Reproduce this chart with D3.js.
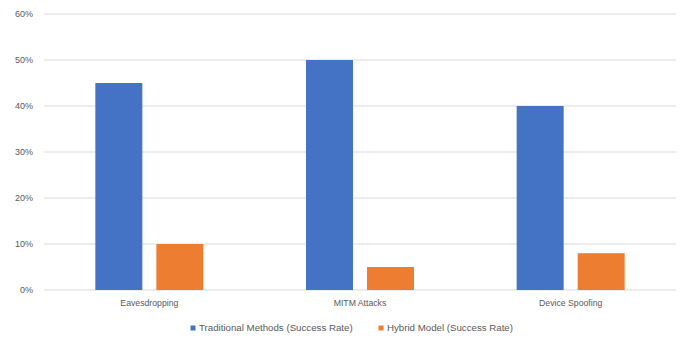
<!DOCTYPE html>
<html>
<head>
<meta charset="utf-8">
<script src="https://cdn.jsdelivr.net/npm/d3@7"></script>
<style>
  body { margin: 0; background: #fff; }
  text { font-family: "Liberation Sans", Arial, sans-serif; fill: #595959; }
</style>
</head>
<body>
<svg width="683" height="338"></svg>
<script>
var categories = ["Eavesdropping", "MITM Attacks", "Device Spoofing"];
var seriesNames = ["Traditional Methods (Success Rate)", "Hybrid Model (Success Rate)"];
var traditional = [0.45, 0.50, 0.40];
var hybrid = [0.10, 0.05, 0.08];
var yTicks = [0, 0.1, 0.2, 0.3, 0.4, 0.5, 0.6];
var colors = ["#4472C4", "#ED7D31"];

var svg = d3.select("svg");
var margin = { left: 44, right: 7, top: 14, bottom: 48 };
var width = +svg.attr("width");
var height = +svg.attr("height");

var x = d3.scaleBand().domain(categories).range([margin.left, width - margin.right]);
var x1 = d3.scaleBand().domain([0, 1]).range([0, 108]).paddingInner(0.23);
var y = d3.scaleLinear().domain([0, 0.6]).range([height - margin.bottom, margin.top]);

var g = svg.append("g");

// gridlines
g.selectAll(".grid")
  .data(yTicks)
  .enter().append("line")
  .attr("x1", margin.left)
  .attr("x2", width - margin.right)
  .attr("y1", d => y(d))
  .attr("y2", d => y(d))
  .attr("stroke", "#D9D9D9")
  .attr("stroke-width", 1);

// y labels
g.selectAll(".ylab")
  .data(yTicks)
  .enter().append("text")
  .attr("x", margin.left - 11)
  .attr("y", d => y(d) + 3)
  .attr("text-anchor", "end")
  .attr("font-size", 9)
  .text(d => d3.format(".0%")(d));

var rows = categories.map((c, i) => ({ cat: c, vals: [traditional[i], hybrid[i]] }));

var groups = g.selectAll(".grp")
  .data(rows)
  .enter().append("g")
  .attr("transform", d => "translate(" + (x(d.cat) + x.bandwidth() / 2 - 54) + ",0)");

groups.selectAll("rect")
  .data(d => d.vals)
  .enter().append("rect")
  .attr("x", (d, i) => x1(i))
  .attr("width", x1.bandwidth())
  .attr("y", d => y(d))
  .attr("height", d => y(0) - y(d))
  .attr("fill", (d, i) => colors[i]);

// x labels
g.selectAll(".xlab")
  .data(categories)
  .enter().append("text")
  .attr("x", d => x(d) + x.bandwidth() / 2)
  .attr("y", 306)
  .attr("text-anchor", "middle")
  .attr("font-size", 8.7)
  .text(d => d);

// legend
var legendX = [193, 381];
var leg = g.selectAll(".leg")
  .data(seriesNames)
  .enter().append("g")
  .attr("transform", (d, i) => "translate(" + legendX[i] + ",328)");
leg.append("rect")
  .attr("x", -2.5).attr("y", -2.5)
  .attr("width", 5).attr("height", 5)
  .attr("fill", (d, i) => colors[i]);
leg.append("text")
  .attr("x", 6)
  .attr("y", 3.3)
  .attr("font-size", 9.7)
  .text(d => d);
</script>
</body>
</html>
